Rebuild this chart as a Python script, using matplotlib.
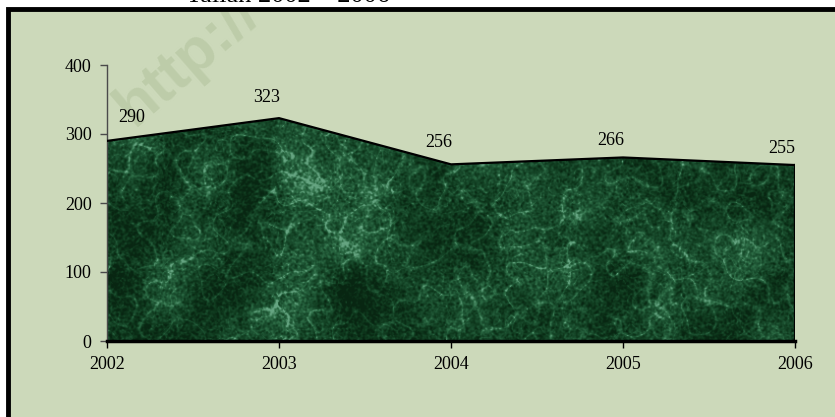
import numpy as np
import matplotlib
matplotlib.use("Agg")
import matplotlib.pyplot as plt
from matplotlib.patches import Rectangle
from matplotlib.colors import LinearSegmentedColormap

years = [2002, 2003, 2004, 2005, 2006]
values = [290, 323, 256, 266, 255]
y_ticks = [0, 100, 200, 300, 400]
title_text = "Tallàn 2002 – 2006"

W, H = 835, 417
fig = plt.figure(figsize=(W / 100, H / 100), dpi=100)
fig.patch.set_facecolor("white")

bg = "#CCD9BA"
# framed panel (extends past right and bottom edges)
panel = Rectangle((7.5 / W, -0.2), 1.2, (H - 9.5) / H + 0.2,
                  transform=fig.transFigure, facecolor=bg,
                  edgecolor="black", linewidth=3.5, zorder=0)
fig.patches.append(panel)

# partially cut title above the frame
fig.text(288 / W, 1 - 2.5 / H, title_text, ha="center", va="baseline",
         fontsize=19, family="Liberation Serif", color="black", zorder=1)

# faint watermark, clipped to the panel
wm = fig.text(134 / W, 1 - 127 / H, "http://", rotation=41, rotation_mode="anchor",
              ha="left", va="baseline", fontsize=44, family="Liberation Sans",
              fontweight="bold", color="#BDCCA9", zorder=0.5)
clip_rect = Rectangle((9.5 / W, 0), 1.0, (H - 11.5) / H, transform=fig.transFigure,
                      facecolor="none", edgecolor="none")
wm.set_clip_path(clip_rect)

ax = fig.add_axes([107 / W, (H - 341) / H, (795 - 107) / W, (341 - 65) / H])
ax.set_zorder(2)
ax.set_facecolor("none")
ax.set_xlim(years[0], years[-1])
ax.set_ylim(0, 400)

# marble-like texture (decorative only)
rng = np.random.default_rng(7)
ny, nx = 280, 700
ky = np.fft.fftfreq(ny)[:, None]
kx = np.fft.fftfreq(nx)[None, :]
k2 = kx ** 2 + ky ** 2


def smooth_noise(sigma):
    n = rng.standard_normal((ny, nx))
    f = np.fft.ifft2(np.fft.fft2(n) * np.exp(-2 * (np.pi ** 2) * sigma ** 2 * k2)).real
    return (f - f.mean()) / f.std()


base = smooth_noise(18)
ridge = np.clip(1 - np.abs(smooth_noise(7)) / 1.2, 0, 1) ** 5
ridge2 = np.clip(1 - np.abs(smooth_noise(3)) / 1.0, 0, 1) ** 6
grain = smooth_noise(0.8)
tex = 0.35 * base + 1.1 * ridge + 0.6 * ridge2 + 0.35 * grain
cmap = LinearSegmentedColormap.from_list(
    "marble", ["#082612", "#0F3A1E", "#1B5030", "#2E6E47", "#66A582"])
im = ax.imshow(tex, extent=(years[0], years[-1], 0, 400), aspect="auto",
               cmap=cmap, origin="lower", zorder=1, interpolation="bilinear",
               vmin=np.percentile(tex, 2), vmax=np.percentile(tex, 99.7))

poly = ax.fill_between(years, values, 0, facecolor="none", edgecolor="none")
im.set_clip_path(poly.get_paths()[0], transform=ax.transData)

# outline of area (top, right, bottom)
ax.plot(years, values, color="black", lw=1.6, zorder=3, solid_joinstyle="miter")
ax.plot([years[-1], years[-1]], [values[-1], 0], color="black", lw=1.6, zorder=3)
ax.plot([years[0], years[-1]], [0, 0], color="black", lw=2.5, zorder=3, clip_on=False)

# data labels
offsets = [(25, 23), (-12, 21), (-12, 22), (-12, 17), (-13, 17)]
for x, v, (dx, dy) in zip(years, values, offsets):
    ax.annotate(str(v), (x, v), xytext=(dx, dy), textcoords="offset pixels",
                ha="center", va="center", fontsize=13,
                family="Liberation Serif", color="black", zorder=4)

for s in ["top", "right"]:
    ax.spines[s].set_visible(False)
ax.spines["left"].set_color("#4a4a4a")
ax.spines["left"].set_linewidth(1.0)
ax.spines["bottom"].set_visible(False)

ax.set_yticks(y_ticks)
ax.set_xticks(years)
ax.set_xticklabels([str(y) for y in years])
ax.tick_params(axis="y", length=5, width=1, color="#4a4a4a", pad=6,
               labelsize=13, labelcolor="black")
ax.tick_params(axis="x", length=5, width=1, color="black", pad=6,
               labelsize=13, labelcolor="black")
for lab in ax.get_xticklabels() + ax.get_yticklabels():
    lab.set_family("Liberation Serif")

fig.savefig("out.png", dpi=100)
